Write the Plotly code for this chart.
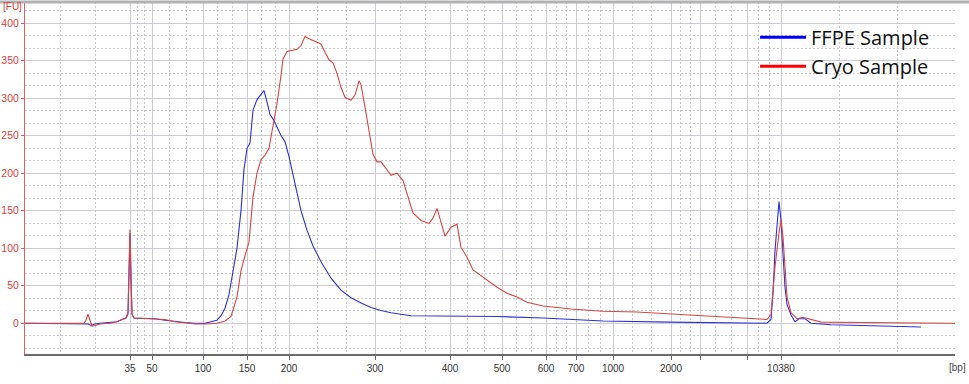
import plotly.graph_objects as go

# ---- axis definition (migration time, s) and bp ladder labels ----
ladder_time = [23.25, 24.35, 26.9, 29.1, 31.2, 35.5, 39.25, 41.85, 44.05, 45.55, 47.4, 50.3, 51.75, 54.1, 55.8]
ladder_bp = ["35", "50", "100", "150", "200", "300", "400", "500", "600", "700", "1000", "2000", "", "", "10380"]
x_range = [18.0, 64.5]
y_range = [-41, 428]

# ---- FFPE sample (blue) ----
ffpe_t = [18.0, 19.75, 21.0, 21.15, 21.3, 21.5, 21.75, 22.25, 22.6, 22.85, 23.05, 23.15, 23.2, 23.25, 23.3,
          23.35, 23.45, 24.0, 24.5, 25.0, 25.5, 26.0, 26.5, 27.0, 27.3, 27.6, 27.8, 28.0, 28.2, 28.4, 28.6,
          28.8, 28.95, 29.1, 29.25, 29.4, 29.6, 29.8, 29.95, 30.1, 30.25, 30.45, 30.6, 30.8, 31.0, 31.2, 31.4,
          31.6, 31.8, 32.1, 32.4, 32.8, 33.3, 33.8, 34.3, 34.8, 35.3, 35.8, 36.3, 37.3, 39.3, 41.6, 43.9,
          46.9, 50.3, 52.8, 55.1, 55.3, 55.4, 55.5, 55.6, 55.7, 55.8, 55.9, 56.0, 56.1, 56.3, 56.5, 56.7,
          57.0, 57.3, 58.3, 60.3, 62.8]
ffpe_fu = [0, 0, 0, -1, -3, -1, 0, 1, 2, 5, 7, 12, 60, 120, 60,
           12, 7, 6, 6, 4, 2, 1, 0, 0, 2, 4, 10, 20, 38, 67, 100,
           150, 205, 233, 240, 284, 298, 305, 310, 295, 278, 270, 262, 250, 242, 222, 198,
           173, 150, 124, 103, 82, 60, 44, 34, 27, 21, 17, 14, 10, 9.5, 9, 7,
           3, 1.5, 0.5, 0, 5, 40, 97, 137, 162, 137, 97, 48, 25, 11, 2, 6,
           6, 0, -2, -3.5, -5]

# ---- Cryo sample (red) ----
cryo_t = [18.0, 19.75, 20.95, 21.05, 21.15, 21.25, 21.35, 21.5, 21.75, 22.25, 22.6, 22.85, 23.05, 23.15, 23.2,
          23.25, 23.3, 23.35, 23.45, 24.0, 24.5, 25.0, 25.5, 26.0, 26.5, 27.0, 27.6, 28.0, 28.3, 28.6, 28.8,
          29.0, 29.2, 29.4, 29.6, 29.8, 30.0, 30.2, 30.4, 30.6, 30.8, 30.9, 31.1, 31.4, 31.6, 31.8, 32.0,
          32.2, 32.6, 32.8, 33.0, 33.2, 33.4, 33.6, 33.8, 34.0, 34.3, 34.5, 34.7, 34.8, 35.0, 35.2, 35.4,
          35.6, 35.8, 36.0, 36.3, 36.6, 36.9, 37.4, 37.8, 38.2, 38.4, 38.6, 38.8, 39.0, 39.3, 39.6, 39.8,
          40.1, 40.4, 40.9, 41.6, 42.1, 42.6, 43.1, 43.9, 45.3, 46.9, 48.6, 49.9, 51.4, 53.1, 55.1, 55.3,
          55.5, 55.7, 55.8, 55.9, 56.0, 56.1, 56.3, 56.6, 56.9, 57.3, 57.8, 59.8, 64.5]
cryo_fu = [0, 0, 0, 4, 12, 4, -4, -3, -1, 0, 2, 5, 7, 15, 70,
           125, 65, 12, 7, 6, 6, 5, 2, 0, -1, -1, 0, 3, 9, 35, 70,
           90, 108, 168, 200, 218, 224, 233, 262, 293, 330, 352, 362, 364, 365, 370, 382,
           379, 375, 372, 361, 351, 347, 333, 314, 301, 297, 304, 323, 318, 288, 257, 225,
           215, 215, 208, 197, 200, 190, 147, 137, 133, 140, 153, 136, 116, 128, 132, 101,
           88, 71, 61, 48, 40, 35, 28, 23, 19, 16, 15, 13, 11, 8, 5, 12,
           75, 120, 138, 115, 70, 35, 14, 6, 8, 5, 1.5, 1, 0]

series_names = ["FFPE Sample", "Cryo Sample"]
line_colors = ["#2f2fd2", "#d84444"]
legend_colors = ["#0000ff", "#ff0000"]

# minor grid: thirds between consecutive major lines
edges = [x_range[0]] + ladder_time + [x_range[1]]
minor_x = []
for a, b in zip(edges[:-1], edges[1:]):
    minor_x += [a + (b - a) / 3, a + 2 * (b - a) / 3]

fig = go.Figure()
for t, fu, c in [(ffpe_t, ffpe_fu, line_colors[0]), (cryo_t, cryo_fu, line_colors[1])]:
    fig.add_trace(go.Scatter(x=t, y=fu, mode="lines", line=dict(color=c, width=1.1),
                             showlegend=False, hoverinfo="skip"))
for name, c in zip(series_names, legend_colors):
    fig.add_trace(go.Scatter(x=[None], y=[None], mode="lines", line=dict(color=c, width=3), name=name))

grid_major = "#cacbd3"
grid_minor = "#c9c9c9"

fig.update_layout(
    width=969, height=384,
    margin=dict(l=25, r=14, t=2, b=30, autoexpand=False),
    paper_bgcolor="white", plot_bgcolor="white",
    font=dict(family="Liberation Sans", size=10, color="#333333"),
    legend=dict(x=0.785, y=0.955, xanchor="left", yanchor="top", bgcolor="rgba(0,0,0,0)",
                font=dict(family="Open Sans", size=20, color="#111111"),
                itemwidth=46, tracegroupgap=0),
    xaxis=dict(range=x_range, tickmode="array", tickvals=ladder_time, ticktext=ladder_bp,
               automargin=False,
               showgrid=True, gridcolor=grid_major, gridwidth=1.3,
               ticks="outside", ticklen=4, tickcolor="#666666",
               showline=True, linecolor="#6a6a6a", linewidth=1.5,
               zeroline=False, tickfont=dict(size=10, color="#333333"),
               minor=dict(tickmode="array", tickvals=minor_x, showgrid=True, gridcolor=grid_minor,
                          griddash="2px,2px", gridwidth=1, ticks="")),
    yaxis=dict(range=y_range, tickmode="linear", tick0=0, dtick=50,
               automargin=False,
               showgrid=True, gridcolor=grid_major, gridwidth=1.3,
               ticks="outside", ticklen=3, tickcolor="#e05555",
               showline=True, linecolor="#e06060", linewidth=1,
               zeroline=False, tickfont=dict(size=10.5, color="#e03c3c"),
               minor=dict(tick0=0, dtick=50 / 3, showgrid=True, gridcolor=grid_minor,
                          griddash="2px,2px", gridwidth=1, ticks="")),
    shapes=[
        dict(type="rect", xref="paper", yref="paper", x0=0.774, x1=1.0, y0=0.764, y1=0.972,
             fillcolor="white", line=dict(width=0), layer="between"),
        dict(type="line", xref="paper", yref="paper", x0=-0.027, x1=1.016, y0=1.0, y1=1.0,
             line=dict(color="#b2b2b2", width=3)),
    ],
    annotations=[
        dict(text="[FU]", xref="paper", yref="paper", x=-0.0258, y=0.986, xanchor="left",
             yanchor="middle", showarrow=False, font=dict(size=10, color="#e03c3c")),
        dict(text="[bp]", xref="paper", yref="paper", x=0.9914, y=-0.037, xanchor="left",
             yanchor="middle", showarrow=False, font=dict(size=10, color="#444444")),
    ],
)

fig.write_html("out.html", config={"displayModeBar": False},
               post_script="document.body.style.margin='0px';")
